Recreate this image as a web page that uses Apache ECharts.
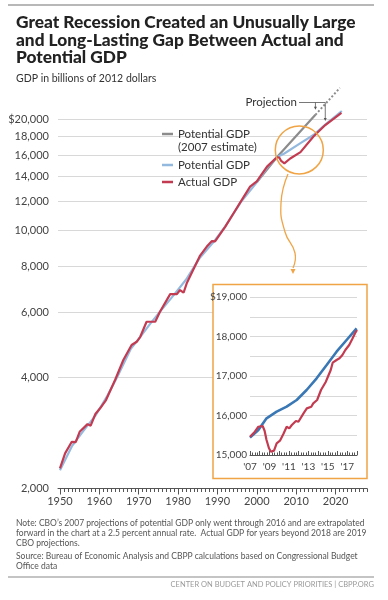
<!DOCTYPE html>
<html><head><meta charset="utf-8">
<script src="https://cdn.jsdelivr.net/npm/echarts@6/dist/echarts.min.js"></script>
<style>html,body{margin:0;padding:0;background:#fff}#c{width:388px;height:600px}</style>
</head><body><div id="c"></div>
<script>
// ---- main chart data (x = position on the year axis, y = billions of 2012 dollars)
const actualYears = [1950.0,1951.3,1953.0,1954.0,1955.0,1957.0,1957.8,1959.0,1960.2,1961.7,1964.0,1966.1,1968.2,1969.5,1970.4,1972.0,1974.2,1975.4,1978.0,1979.7,1980.5,1981.4,1982.2,1985.6,1987.3,1988.6,1989.4,1992.0,1994.1,1996.2,1998.3,2000.0,2002.6,2005.1,2005.7,2006.2,2007.0,2007.5,2008.5,2011.1,2014.4,2017.4,2021.5];
const actualValues = [2267,2490,2676,2670,2848,2988,2960,3182,3298,3472,3934,4456,4894,4994,5152,5658,5658,6022,6721,6721,6896,6780,7190,8550,9040,9360,9340,10240,11130,12100,13140,13570,14890,15780,15760,15420,15200,15300,15660,16300,17960,19290,20800];
const potentialYears = [1950,1953,1956,1959,1962,1965,1968,1970.4,1973,1976,1979,1982,1985.6,1989,1992,1996,2000,2002.6,2005.1,2007,2011.1,2014.4,2017.4,2021.6];
const potentialValues = [2240,2600,2870,3150,3560,4100,4780,5150,5600,6130,6700,7350,8450,9300,10250,11950,13500,14800,15780,16160,17230,18130,19350,21060];
const potential07Years = [2000,2005.1,2014.9];
const potential07Values = [13500,15780,20560];
const potential07ProjYears = [2014.9,2021.1];
const potential07ProjValues = [20560,24320];
const yTicks = [2000,4000,6000,8000,10000,12000,14000,16000,18000,20000];
const xMajorTicks = [1950,1960,1970,1980,1990,2000,2010,2020];
const xMinorTicks = Array.from({length: 79}, (_, i) => 1950 + i);

// ---- inset data
const insetPotYears = [2007.0,2007.86,2008.7,2009.74,2010.77,2011.8,2012.82,2013.85,2014.88,2015.9,2016.93,2017.96];
const insetPotValues = [15440,15633,15929,16096,16223,16392,16646,16942,17278,17615,17911,18208];
const insetActYears = [2007.0,2007.5,2007.86,2008.0,2008.3,2008.5,2008.7,2008.95,2009.15,2009.47,2009.74,2010.08,2010.43,2010.77,2011.04,2011.3,2011.47,2011.72,2011.98,2012.5,2012.84,2013.0,2013.3,2013.5,2013.7,2013.9,2014.1,2014.3,2014.5,2014.8,2015.04,2015.3,2015.5,2015.9,2016.2,2016.5,2016.8,2017.2,2017.5,2017.8,2018.0];
const insetActValues = [15464,15590,15716,15675,15734,15615,15380,15170,15084,15110,15296,15362,15532,15716,15675,15760,15742,15861,15843,16054,16180,16197,16223,16308,16350,16392,16519,16646,16628,16856,17000,17152,17337,17405,17448,17532,17658,17785,17929,18081,18164];

const C_RED = '#c23b50', C_BLUE_L = '#93b9de', C_GREY = '#8c8c8c', C_BLUE_D = '#3a78b5', C_ORANGE = '#f0a445';
const FONT = 'Lato, "Open Sans", sans-serif';
const zip = (a, b) => a.map((v, i) => [v, b[i]]);
const fmt = v => Math.round(v).toLocaleString('en-US');

const chart = echarts.init(document.getElementById('c'), null, {renderer: 'canvas', width: 388, height: 600});
chart.setOption({
  animation: false,
  backgroundColor: '#fff',
  textStyle: {fontFamily: FONT},
  grid: [
    {left: 58, top: 83.5, width: 309, height: 405},
    {left: 250, top: 297, width: 107, height: 158, z: 5}
  ],
  xAxis: [
    {gridIndex: 0, type: 'value', min: 1949.5, max: 2028, position: 'bottom',
     axisLine: {lineStyle: {color: '#555', width: 1}},
     axisTick: {customValues: xMajorTicks, length: 6, lineStyle: {color: '#555'}},
     axisLabel: {customValues: xMajorTicks, formatter: v => String(Math.round(v)), color: '#444', fontSize: 11, margin: 7, fontFamily: FONT},
     splitLine: {show: false}},
    {gridIndex: 0, type: 'value', min: 1949.5, max: 2028, position: 'bottom',
     axisLine: {show: false},
     axisTick: {customValues: xMinorTicks, length: 3.5, lineStyle: {color: '#555'}},
     axisLabel: {show: false}, splitLine: {show: false}},
    {gridIndex: 1, type: 'value', min: 2007, max: 2018, interval: 1, z: 6,
     axisLine: {lineStyle: {color: '#555'}},
     axisTick: {inside: true, length: 4, lineStyle: {color: '#555'}},
     minorTick: {show: true, splitNumber: 4, length: 2.5, lineStyle: {color: '#555'}},
     axisLabel: {formatter: v => (Math.round(v) % 2 === 1 ? "'" + String(Math.round(v)).slice(2) : ''), color: '#444', fontSize: 10, margin: 7, fontFamily: FONT, showMaxLabel: true},
     splitLine: {show: false}}
  ],
  yAxis: [
    {gridIndex: 0, type: 'log', logBase: 10, min: 2000, max: 25000,
     axisLine: {show: false},
     axisTick: {show: false, customValues: yTicks},
     axisLabel: {customValues: yTicks, formatter: v => (Math.round(v) === 20000 ? '$20,000' : fmt(v)), color: '#444', fontSize: 11, margin: 9, fontFamily: FONT},
     splitLine: {show: true, lineStyle: {color: '#d8d8d8', width: 1}}},
    {gridIndex: 1, type: 'value', min: 15000, max: 19000, interval: 500, z: 6,
     axisLine: {show: false}, axisTick: {show: false},
     axisLabel: {formatter: v => (v % 1000 === 0 ? (v === 19000 ? '$19,000' : fmt(v)) : ''), color: '#444', fontSize: 10, margin: 3, fontFamily: FONT},
     splitLine: {show: true, lineStyle: {color: '#d8d8d8', width: 1}}}
  ],
  series: [
    {name: 'Potential GDP (2007 estimate)', type: 'line', xAxisIndex: 0, yAxisIndex: 0, data: zip(potential07Years, potential07Values), symbol: 'none', lineStyle: {color: C_GREY, width: 2.2}, z: 2},
    {name: 'Potential GDP (2007 estimate) projection', type: 'line', xAxisIndex: 0, yAxisIndex: 0, data: zip(potential07ProjYears, potential07ProjValues), symbol: 'none', lineStyle: {color: C_GREY, width: 2, type: [2, 2]}, z: 2},
    {name: 'Potential GDP', type: 'line', xAxisIndex: 0, yAxisIndex: 0, data: zip(potentialYears, potentialValues), symbol: 'none', lineStyle: {color: C_BLUE_L, width: 2.2}, z: 3},
    {name: 'Actual GDP', type: 'line', xAxisIndex: 0, yAxisIndex: 0, data: zip(actualYears, actualValues), symbol: 'none', lineStyle: {color: C_RED, width: 2.2}, z: 4},
    {name: 'Potential GDP inset', type: 'line', xAxisIndex: 2, yAxisIndex: 1, data: zip(insetPotYears, insetPotValues), symbol: 'none', lineStyle: {color: C_BLUE_D, width: 2.6}, z: 7},
    {name: 'Actual GDP inset', type: 'line', xAxisIndex: 2, yAxisIndex: 1, data: zip(insetActYears, insetActValues), symbol: 'none', lineStyle: {color: C_RED, width: 2.2}, z: 8}
  ]
});

const px = (x, y) => chart.convertToPixel({xAxisIndex: 0, yAxisIndex: 0}, [x, y]);
const circ = px(2010.8, 16520);
const a1 = px(2014.9, 20560), a2 = px(2017.4, 19290);
const projY = 102.5;
const txt = (t, x, y, font, fill, align) => ({type: 'text', x: x, y: y, z: 20, style: {text: t, font: font, fill: fill, align: align || 'left', verticalAlign: 'middle'}});
const seg = (x1, y1, x2, y2, color, w, z) => ({type: 'line', z: z || 20, shape: {x1, y1, x2, y2}, style: {stroke: color, lineWidth: w}});
const tri = (x, y, color, s) => ({type: 'polygon', z: 20, shape: {points: [[x - s, y - 2 * s], [x + s, y - 2 * s], [x, y]]}, style: {fill: color}});

const TITLE_FONT = '900 17.3px ' + FONT;
chart.setOption({
  graphic: [
    seg(8, 5, 374, 5, '#a0a0a0', 1.5),
    txt('Great Recession Created an Unusually Large', 16, 22, TITLE_FONT, '#222'),
    txt('and Long-Lasting Gap Between Actual and', 16, 40, TITLE_FONT, '#222'),
    txt('Potential GDP', 16, 57.5, TITLE_FONT, '#222'),
    txt('GDP in billions of 2012 dollars', 16, 79, '10.5px ' + FONT, '#333'),
    // legend
    seg(162, 134, 173, 134, C_GREY, 2.5),
    txt('Potential GDP', 178, 134, '11.5px ' + FONT, '#333'),
    txt('(2007 estimate)', 178, 147.5, '11.5px ' + FONT, '#333'),
    seg(162, 165, 173, 165, C_BLUE_L, 2.5),
    txt('Potential GDP', 178, 165, '11.5px ' + FONT, '#333'),
    seg(162, 182, 173, 182, C_RED, 2.5),
    txt('Actual GDP', 178, 182, '11.5px ' + FONT, '#333'),
    // projection annotation
    txt('Projection', 297, projY, '11.5px ' + FONT, '#333', 'right'),
    seg(299, projY, a2[0], projY, '#555', 0.8),
    seg(a1[0], projY, a1[0], a1[1] - 7, '#555', 0.8),
    tri(a1[0], a1[1] - 5, '#555', 1.5),
    seg(a2[0], projY, a2[0], a2[1] - 6, '#555', 0.8),
    tri(a2[0], a2[1] - 4, '#555', 1.5),
    // circle + curved arrow
    {type: 'circle', z: 21, shape: {cx: circ[0], cy: circ[1], r: 24}, style: {fill: 'none', stroke: C_ORANGE, lineWidth: 1.5}},
    {type: 'polyline', z: 21, shape: {points: [[288, 174], [281, 203], [285, 232], [295, 253], [293, 268]], smooth: 0.5}, style: {fill: 'none', stroke: C_ORANGE, lineWidth: 1.3}},
    tri(293, 274, C_ORANGE, 2.5),
    // inset frame
    {type: 'rect', z: 4, shape: {x: 213, y: 284.5, width: 154, height: 194}, style: {fill: '#fff', stroke: C_ORANGE, lineWidth: 1.5}},
    // notes
    txt("Note: CBO\u2019s 2007 projections of potential GDP only went through 2016 and are extrapolated", 16, 523, '8.5px ' + FONT, '#555'),
    txt('forward in the chart at a 2.5 percent annual rate.  Actual GDP for years beyond 2018 are 2019', 16, 533, '8.5px ' + FONT, '#555'),
    txt('CBO projections.', 16, 543, '8.5px ' + FONT, '#555'),
    txt('Source: Bureau of Economic Analysis and CBPP calculations based on Congressional Budget', 16, 556, '8.5px ' + FONT, '#555'),
    txt('Office data', 16, 566, '8.5px ' + FONT, '#555'),
    seg(8, 577, 374, 577, '#8a8a8a', 1.2),
    txt('CENTER ON BUDGET AND POLICY PRIORITIES | CBPP.ORG', 374, 585, '7.5px ' + FONT, '#9a9a9a', 'right')
  ]
});
</script>
</body></html>
